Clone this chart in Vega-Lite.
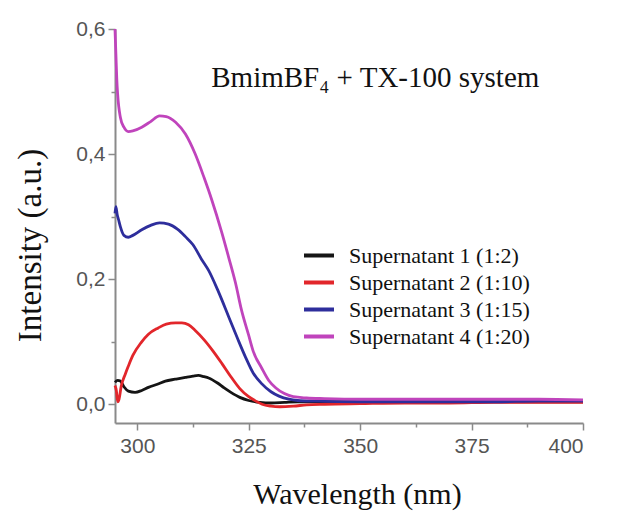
{
  "$schema": "https://vega.github.io/schema/vega-lite/v6.json",
  "width": 468,
  "height": 394,
  "autosize": "none",
  "padding": {"left": 115, "top": 29, "right": 50, "bottom": 88},
  "background": "white",
  "config": {
    "view": {"stroke": null},
    "axis": {
      "grid": false,
      "domainColor": "#8a8a8a",
      "domainWidth": 2,
      "tickColor": "#8a8a8a",
      "tickWidth": 1.5,
      "labelFont": "Liberation Sans",
      "labelFontSize": 21,
      "labelColor": "#555555",
      "titleFont": "Liberation Serif",
      "titleFontWeight": "normal",
      "titleColor": "#111111"
    }
  },
  "datasets": {
    "spectra": [
      {"series": "Supernatant 1 (1:2)", "wl": 295.0, "val": 0.035},
      {"series": "Supernatant 1 (1:2)", "wl": 295.6, "val": 0.038},
      {"series": "Supernatant 1 (1:2)", "wl": 296.2, "val": 0.037},
      {"series": "Supernatant 1 (1:2)", "wl": 297.0, "val": 0.028},
      {"series": "Supernatant 1 (1:2)", "wl": 298.0, "val": 0.021},
      {"series": "Supernatant 1 (1:2)", "wl": 299.5, "val": 0.019},
      {"series": "Supernatant 1 (1:2)", "wl": 301.0, "val": 0.022},
      {"series": "Supernatant 1 (1:2)", "wl": 302.5, "val": 0.027},
      {"series": "Supernatant 1 (1:2)", "wl": 304.5, "val": 0.032},
      {"series": "Supernatant 1 (1:2)", "wl": 306.3, "val": 0.037},
      {"series": "Supernatant 1 (1:2)", "wl": 308.5, "val": 0.040},
      {"series": "Supernatant 1 (1:2)", "wl": 310.8, "val": 0.043},
      {"series": "Supernatant 1 (1:2)", "wl": 312.5, "val": 0.045},
      {"series": "Supernatant 1 (1:2)", "wl": 313.7, "val": 0.046},
      {"series": "Supernatant 1 (1:2)", "wl": 315.0, "val": 0.044},
      {"series": "Supernatant 1 (1:2)", "wl": 316.0, "val": 0.042},
      {"series": "Supernatant 1 (1:2)", "wl": 318.0, "val": 0.034},
      {"series": "Supernatant 1 (1:2)", "wl": 319.5, "val": 0.026},
      {"series": "Supernatant 1 (1:2)", "wl": 321.0, "val": 0.019},
      {"series": "Supernatant 1 (1:2)", "wl": 323.0, "val": 0.011},
      {"series": "Supernatant 1 (1:2)", "wl": 325.0, "val": 0.006},
      {"series": "Supernatant 1 (1:2)", "wl": 327.5, "val": 0.003},
      {"series": "Supernatant 1 (1:2)", "wl": 330.0, "val": 0.002},
      {"series": "Supernatant 1 (1:2)", "wl": 333.0, "val": 0.003},
      {"series": "Supernatant 1 (1:2)", "wl": 336.0, "val": 0.004},
      {"series": "Supernatant 1 (1:2)", "wl": 340.0, "val": 0.004},
      {"series": "Supernatant 1 (1:2)", "wl": 350.0, "val": 0.004},
      {"series": "Supernatant 1 (1:2)", "wl": 360.0, "val": 0.004},
      {"series": "Supernatant 1 (1:2)", "wl": 370.0, "val": 0.004},
      {"series": "Supernatant 1 (1:2)", "wl": 380.0, "val": 0.004},
      {"series": "Supernatant 1 (1:2)", "wl": 390.0, "val": 0.004},
      {"series": "Supernatant 1 (1:2)", "wl": 400.0, "val": 0.004},

      {"series": "Supernatant 2 (1:10)", "wl": 295.0, "val": 0.030},
      {"series": "Supernatant 2 (1:10)", "wl": 295.3, "val": 0.022},
      {"series": "Supernatant 2 (1:10)", "wl": 295.6, "val": 0.004},
      {"series": "Supernatant 2 (1:10)", "wl": 295.9, "val": 0.008},
      {"series": "Supernatant 2 (1:10)", "wl": 296.4, "val": 0.029},
      {"series": "Supernatant 2 (1:10)", "wl": 297.3, "val": 0.048},
      {"series": "Supernatant 2 (1:10)", "wl": 298.0, "val": 0.061},
      {"series": "Supernatant 2 (1:10)", "wl": 299.0, "val": 0.078},
      {"series": "Supernatant 2 (1:10)", "wl": 300.9, "val": 0.099},
      {"series": "Supernatant 2 (1:10)", "wl": 302.5, "val": 0.112},
      {"series": "Supernatant 2 (1:10)", "wl": 304.7, "val": 0.122},
      {"series": "Supernatant 2 (1:10)", "wl": 306.5, "val": 0.128},
      {"series": "Supernatant 2 (1:10)", "wl": 308.6, "val": 0.130},
      {"series": "Supernatant 2 (1:10)", "wl": 310.0, "val": 0.130},
      {"series": "Supernatant 2 (1:10)", "wl": 311.5, "val": 0.127},
      {"series": "Supernatant 2 (1:10)", "wl": 313.0, "val": 0.118},
      {"series": "Supernatant 2 (1:10)", "wl": 315.0, "val": 0.103},
      {"series": "Supernatant 2 (1:10)", "wl": 317.0, "val": 0.085},
      {"series": "Supernatant 2 (1:10)", "wl": 319.0, "val": 0.065},
      {"series": "Supernatant 2 (1:10)", "wl": 321.0, "val": 0.044},
      {"series": "Supernatant 2 (1:10)", "wl": 323.0, "val": 0.025},
      {"series": "Supernatant 2 (1:10)", "wl": 325.0, "val": 0.012},
      {"series": "Supernatant 2 (1:10)", "wl": 326.6, "val": 0.005},
      {"series": "Supernatant 2 (1:10)", "wl": 328.0, "val": 0.000},
      {"series": "Supernatant 2 (1:10)", "wl": 330.0, "val": -0.003},
      {"series": "Supernatant 2 (1:10)", "wl": 332.0, "val": -0.004},
      {"series": "Supernatant 2 (1:10)", "wl": 335.0, "val": -0.003},
      {"series": "Supernatant 2 (1:10)", "wl": 338.0, "val": -0.001},
      {"series": "Supernatant 2 (1:10)", "wl": 342.0, "val": 0.000},
      {"series": "Supernatant 2 (1:10)", "wl": 350.0, "val": 0.001},
      {"series": "Supernatant 2 (1:10)", "wl": 360.0, "val": 0.002},
      {"series": "Supernatant 2 (1:10)", "wl": 370.0, "val": 0.002},
      {"series": "Supernatant 2 (1:10)", "wl": 380.0, "val": 0.003},
      {"series": "Supernatant 2 (1:10)", "wl": 390.0, "val": 0.003},
      {"series": "Supernatant 2 (1:10)", "wl": 400.0, "val": 0.003},

      {"series": "Supernatant 3 (1:15)", "wl": 295.0, "val": 0.305},
      {"series": "Supernatant 3 (1:15)", "wl": 295.2, "val": 0.316},
      {"series": "Supernatant 3 (1:15)", "wl": 295.5, "val": 0.303},
      {"series": "Supernatant 3 (1:15)", "wl": 295.8, "val": 0.295},
      {"series": "Supernatant 3 (1:15)", "wl": 296.2, "val": 0.284},
      {"series": "Supernatant 3 (1:15)", "wl": 297.0, "val": 0.270},
      {"series": "Supernatant 3 (1:15)", "wl": 298.0, "val": 0.267},
      {"series": "Supernatant 3 (1:15)", "wl": 299.0, "val": 0.270},
      {"series": "Supernatant 3 (1:15)", "wl": 301.0, "val": 0.279},
      {"series": "Supernatant 3 (1:15)", "wl": 303.0, "val": 0.286},
      {"series": "Supernatant 3 (1:15)", "wl": 305.0, "val": 0.290},
      {"series": "Supernatant 3 (1:15)", "wl": 307.0, "val": 0.288},
      {"series": "Supernatant 3 (1:15)", "wl": 309.0, "val": 0.280},
      {"series": "Supernatant 3 (1:15)", "wl": 310.8, "val": 0.268},
      {"series": "Supernatant 3 (1:15)", "wl": 312.5, "val": 0.255},
      {"series": "Supernatant 3 (1:15)", "wl": 314.4, "val": 0.232},
      {"series": "Supernatant 3 (1:15)", "wl": 316.0, "val": 0.214},
      {"series": "Supernatant 3 (1:15)", "wl": 318.2, "val": 0.180},
      {"series": "Supernatant 3 (1:15)", "wl": 320.5, "val": 0.140},
      {"series": "Supernatant 3 (1:15)", "wl": 322.5, "val": 0.105},
      {"series": "Supernatant 3 (1:15)", "wl": 324.3, "val": 0.075},
      {"series": "Supernatant 3 (1:15)", "wl": 326.0, "val": 0.050},
      {"series": "Supernatant 3 (1:15)", "wl": 327.9, "val": 0.033},
      {"series": "Supernatant 3 (1:15)", "wl": 330.0, "val": 0.020},
      {"series": "Supernatant 3 (1:15)", "wl": 331.8, "val": 0.013},
      {"series": "Supernatant 3 (1:15)", "wl": 334.0, "val": 0.008},
      {"series": "Supernatant 3 (1:15)", "wl": 336.0, "val": 0.006},
      {"series": "Supernatant 3 (1:15)", "wl": 340.0, "val": 0.005},
      {"series": "Supernatant 3 (1:15)", "wl": 350.0, "val": 0.004},
      {"series": "Supernatant 3 (1:15)", "wl": 360.0, "val": 0.004},
      {"series": "Supernatant 3 (1:15)", "wl": 370.0, "val": 0.004},
      {"series": "Supernatant 3 (1:15)", "wl": 380.0, "val": 0.004},
      {"series": "Supernatant 3 (1:15)", "wl": 390.0, "val": 0.005},
      {"series": "Supernatant 3 (1:15)", "wl": 400.0, "val": 0.005},

      {"series": "Supernatant 4 (1:20)", "wl": 295.0, "val": 0.600},
      {"series": "Supernatant 4 (1:20)", "wl": 295.2, "val": 0.560},
      {"series": "Supernatant 4 (1:20)", "wl": 295.4, "val": 0.520},
      {"series": "Supernatant 4 (1:20)", "wl": 295.6, "val": 0.495},
      {"series": "Supernatant 4 (1:20)", "wl": 296.2, "val": 0.459},
      {"series": "Supernatant 4 (1:20)", "wl": 297.0, "val": 0.443},
      {"series": "Supernatant 4 (1:20)", "wl": 298.0, "val": 0.436},
      {"series": "Supernatant 4 (1:20)", "wl": 299.0, "val": 0.437},
      {"series": "Supernatant 4 (1:20)", "wl": 301.0, "val": 0.443},
      {"series": "Supernatant 4 (1:20)", "wl": 303.0, "val": 0.452},
      {"series": "Supernatant 4 (1:20)", "wl": 305.0, "val": 0.461},
      {"series": "Supernatant 4 (1:20)", "wl": 306.5, "val": 0.460},
      {"series": "Supernatant 4 (1:20)", "wl": 308.6, "val": 0.451},
      {"series": "Supernatant 4 (1:20)", "wl": 310.8, "val": 0.432},
      {"series": "Supernatant 4 (1:20)", "wl": 313.0, "val": 0.400},
      {"series": "Supernatant 4 (1:20)", "wl": 315.0, "val": 0.362},
      {"series": "Supernatant 4 (1:20)", "wl": 316.7, "val": 0.327},
      {"series": "Supernatant 4 (1:20)", "wl": 318.9, "val": 0.276},
      {"series": "Supernatant 4 (1:20)", "wl": 320.5, "val": 0.235},
      {"series": "Supernatant 4 (1:20)", "wl": 322.0, "val": 0.195},
      {"series": "Supernatant 4 (1:20)", "wl": 323.4, "val": 0.150},
      {"series": "Supernatant 4 (1:20)", "wl": 325.0, "val": 0.110},
      {"series": "Supernatant 4 (1:20)", "wl": 326.0, "val": 0.085},
      {"series": "Supernatant 4 (1:20)", "wl": 327.9, "val": 0.058},
      {"series": "Supernatant 4 (1:20)", "wl": 329.5, "val": 0.038},
      {"series": "Supernatant 4 (1:20)", "wl": 331.1, "val": 0.026},
      {"series": "Supernatant 4 (1:20)", "wl": 333.0, "val": 0.017},
      {"series": "Supernatant 4 (1:20)", "wl": 335.0, "val": 0.012},
      {"series": "Supernatant 4 (1:20)", "wl": 338.0, "val": 0.010},
      {"series": "Supernatant 4 (1:20)", "wl": 342.0, "val": 0.009},
      {"series": "Supernatant 4 (1:20)", "wl": 350.0, "val": 0.008},
      {"series": "Supernatant 4 (1:20)", "wl": 360.0, "val": 0.008},
      {"series": "Supernatant 4 (1:20)", "wl": 370.0, "val": 0.008},
      {"series": "Supernatant 4 (1:20)", "wl": 380.0, "val": 0.008},
      {"series": "Supernatant 4 (1:20)", "wl": 390.0, "val": 0.008},
      {"series": "Supernatant 4 (1:20)", "wl": 400.0, "val": 0.007}
    ],
    "note": [{"label": "BmimBF₄ + TX-100 system"}]
  },
  "layer": [
    {
      "data": {"name": "spectra"},
      "mark": {"type": "line", "strokeWidth": 2.8, "interpolate": "monotone"},
      "encoding": {
        "x": {
          "field": "wl",
          "type": "quantitative",
          "scale": {"domain": [295, 400], "nice": false, "zero": false},
          "axis": {
            "title": "Wavelength (nm)",
            "titleFontSize": 30,
            "titleX": 242,
            "titleY": 80,
            "titleAlign": "center",
            "titleBaseline": "alphabetic",
            "values": [300, 312.5, 325, 337.5, 350, 362.5, 375, 387.5, 400],
            "labelExpr": "datum.value % 25 == 0 ? format(datum.value, 'd') : ''",
            "tickSize": {"condition": {"test": "datum.value % 25 != 0", "value": 4}, "value": 7},
            "labelPadding": 5
          }
        },
        "y": {
          "field": "val",
          "type": "quantitative",
          "scale": {"domain": [-0.03, 0.6], "nice": false, "zero": false},
          "axis": {
            "title": "Intensity (a.u.)",
            "titleFontSize": 33,
            "titleAngle": -90,
            "titleX": -75,
            "titleY": 216,
            "titleAlign": "center",
            "titleBaseline": "alphabetic",
            "values": [0, 0.1, 0.2, 0.3, 0.4, 0.5, 0.6],
            "labelExpr": "round(datum.value * 10) % 2 == 1 ? '' : replace(format(datum.value, '.1f'), '.', ',')",
            "tickSize": {"condition": {"test": "round(datum.value * 10) % 2 == 1", "value": 4}, "value": 7},
            "labelPadding": 3
          }
        },
        "color": {
          "field": "series",
          "type": "nominal",
          "scale": {
            "domain": ["Supernatant 1 (1:2)", "Supernatant 2 (1:10)", "Supernatant 3 (1:15)", "Supernatant 4 (1:20)"],
            "range": ["#151515", "#e2262b", "#2e2e9c", "#c044bc"]
          },
          "legend": {
            "title": null,
            "orient": "none",
            "legendX": 187,
            "legendY": 213,
            "symbolType": "stroke",
            "symbolSize": 900,
            "symbolStrokeWidth": 4,
            "labelFont": "Liberation Serif",
            "labelFontSize": 22,
            "labelColor": "#111111",
            "labelOffset": 13,
            "labelLimit": 0,
            "rowPadding": 0,
            "clipHeight": 27,
            "padding": 0
          }
        },
        "order": {"field": "wl", "type": "quantitative"}
      }
    },
    {
      "data": {"name": "note"},
      "mark": {"type": "text", "font": "Liberation Serif", "fontSize": 29, "color": "#111111", "align": "center", "baseline": "alphabetic"},
      "encoding": {
        "x": {"datum": 353.4, "type": "quantitative"},
        "y": {"datum": 0.507, "type": "quantitative"},
        "text": {"field": "label"}
      }
    }
  ]
}
